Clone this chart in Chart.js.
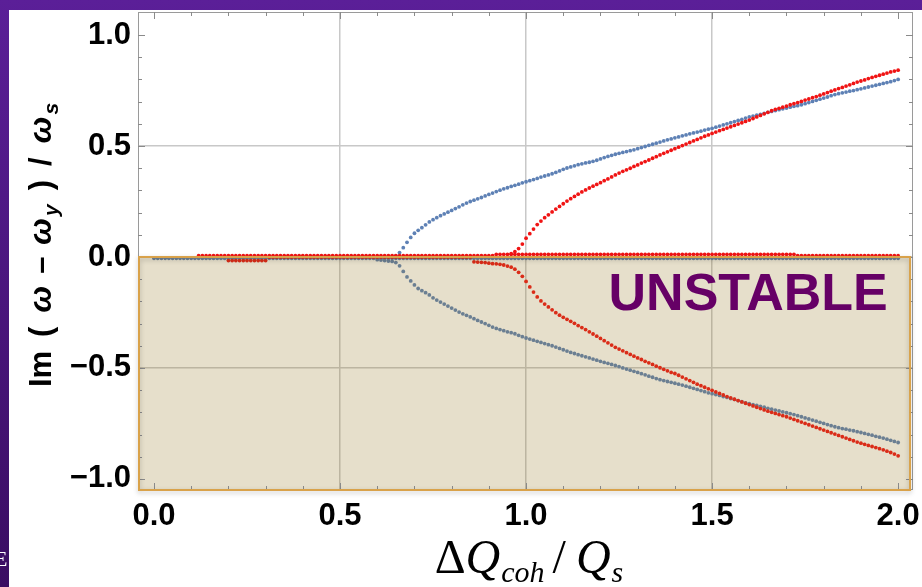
<!DOCTYPE html>
<html>
<head>
<meta charset="utf-8">
<script src="https://cdn.jsdelivr.net/npm/chart.js@4.4.1/dist/chart.umd.min.js"></script>
<style>
  html, body { margin: 0; padding: 0; background: #5b1f98; }
  canvas { display: block; }
</style>
</head>
<body>
<canvas id="graficoEstabilidad" width="922" height="587"></canvas>
<script>
// malla en dQ_coh/Q_s (paso 0.01)
const paso = 0.01;

// ramas azules
const azulPlanaInicio = 0.00;
const azulPlana = [
  -0.006,-0.006,-0.006,-0.006,-0.006,-0.006,-0.006,-0.006,-0.006,-0.006,-0.006,-0.006,-0.006,-0.006,-0.006,-0.006,-0.006,-0.006,-0.006,-0.006,
  -0.006,-0.006,-0.006,-0.006,-0.006,-0.006,-0.006,-0.006,-0.006,-0.006,-0.006,-0.006,-0.006,-0.006,-0.006,-0.006,-0.006,-0.006,-0.006,-0.006,
  -0.006,-0.006,-0.006,-0.006,-0.006,-0.006,-0.006,-0.006,-0.006,-0.006,-0.006,-0.006,-0.006,-0.006,-0.006,-0.006,-0.006,-0.006,-0.006,-0.006,
  -0.006,-0.006,-0.006,-0.006,-0.006,-0.006,-0.006,-0.006,-0.006,-0.006,-0.006,-0.006,-0.006,-0.006,-0.006,-0.006,-0.006,-0.006,-0.006,-0.006,
  -0.006,-0.006,-0.006,-0.006,-0.006,-0.006,-0.006,-0.006,-0.006,-0.006,-0.006,-0.006,-0.006,-0.006,-0.006,-0.006,-0.006,-0.006,-0.006,-0.006,
  -0.006,-0.006,-0.006,-0.006,-0.006,-0.006,-0.006,-0.006,-0.006,-0.006,-0.006,-0.006,-0.006,-0.006,-0.006,-0.006,-0.006,-0.006,-0.006,-0.006,
  -0.006,-0.006,-0.006,-0.006,-0.006,-0.006,-0.006,-0.006,-0.006,-0.006,-0.006,-0.006,-0.006,-0.006,-0.006,-0.006,-0.006,-0.006,-0.006,-0.006,
  -0.006,-0.006,-0.006,-0.006,-0.006,-0.006,-0.006,-0.006,-0.006,-0.006,-0.006,-0.006,-0.006,-0.006,-0.006,-0.006,-0.006,-0.006,-0.006,-0.006,
  -0.006,-0.006,-0.006,-0.006,-0.006,-0.006,-0.006,-0.006,-0.006,-0.006,-0.006,-0.006,-0.006,-0.006,-0.006,-0.006,-0.006,-0.006,-0.006,-0.006,
  -0.006,-0.006,-0.006,-0.006,-0.006,-0.006,-0.006,-0.006,-0.006,-0.006,-0.006,-0.006,-0.006,-0.006,-0.006,-0.006,-0.006,-0.006,-0.006,-0.006,
  -0.006
];
const azulSupInicio = 0.65;
const azulSup = [
  0.005,0.02,0.042,0.066,0.088,0.107,0.12,0.132,0.145,0.158,
  0.168,0.177,0.186,0.194,0.202,0.21,0.218,0.226,0.235,0.243,
  0.25,0.256,0.262,0.268,0.275,0.282,0.288,0.295,0.301,0.307,
  0.312,0.318,0.323,0.328,0.334,0.339,0.344,0.349,0.354,0.36,
  0.365,0.37,0.375,0.381,0.388,0.395,0.401,0.406,0.411,0.416,
  0.42,0.424,0.427,0.431,0.436,0.442,0.448,0.453,0.458,0.463,
  0.467,0.471,0.475,0.479,0.483,0.488,0.493,0.498,0.503,0.508,
  0.513,0.518,0.523,0.528,0.532,0.537,0.541,0.546,0.55,0.555,
  0.559,0.563,0.567,0.572,0.576,0.58,0.585,0.59,0.595,0.6,
  0.605,0.61,0.615,0.62,0.626,0.631,0.635,0.639,0.643,0.647,
  0.652,0.656,0.66,0.664,0.668,0.671,0.675,0.679,0.682,0.686,
  0.691,0.696,0.701,0.706,0.711,0.716,0.721,0.727,0.732,0.736,
  0.74,0.743,0.747,0.75,0.754,0.758,0.762,0.766,0.77,0.774,
  0.778,0.782,0.786,0.79,0.795,0.80
];
const azulInfInicio = 0.60;
const azulInf = [
  -0.012,-0.014,-0.016,-0.018,-0.02,
  -0.025,-0.04,-0.065,-0.09,-0.108,-0.126,-0.142,-0.152,-0.161,-0.171,
  -0.184,-0.194,-0.203,-0.212,-0.221,-0.23,-0.239,-0.248,-0.256,-0.263,
  -0.27,-0.278,-0.286,-0.293,-0.3,-0.308,-0.316,-0.322,-0.327,-0.332,
  -0.337,-0.341,-0.346,-0.353,-0.359,-0.365,-0.37,-0.375,-0.38,-0.385,
  -0.39,-0.395,-0.4,-0.406,-0.412,-0.418,-0.424,-0.43,-0.435,-0.44,
  -0.445,-0.45,-0.455,-0.46,-0.465,-0.47,-0.475,-0.479,-0.484,-0.489,
  -0.494,-0.5,-0.505,-0.51,-0.515,-0.52,-0.526,-0.531,-0.537,-0.542,
  -0.548,-0.553,-0.557,-0.561,-0.565,-0.569,-0.573,-0.577,-0.582,-0.587,
  -0.592,-0.597,-0.602,-0.607,-0.612,-0.616,-0.62,-0.624,-0.629,-0.633,
  -0.638,-0.642,-0.647,-0.652,-0.657,-0.661,-0.665,-0.669,-0.673,-0.677,
  -0.682,-0.686,-0.69,-0.694,-0.698,-0.702,-0.706,-0.71,-0.715,-0.72,
  -0.725,-0.73,-0.735,-0.74,-0.745,-0.75,-0.755,-0.76,-0.765,-0.769,
  -0.773,-0.776,-0.78,-0.783,-0.787,-0.791,-0.795,-0.799,-0.803,-0.808,
  -0.812,-0.816,-0.821,-0.826,-0.831,-0.836
];

// ramas rojas
const rojaPlanaInicio = 0.12;
const rojaPlana = [
  0.006,0.006,0.006,0.006,0.006,0.006,0.006,0.006,0.006,0.006,0.006,0.006,0.006,0.006,0.006,0.006,0.006,0.006,0.006,0.006,
  0.006,0.006,0.006,0.006,0.006,0.006,0.006,0.006,0.006,0.006,0.006,0.006,0.006,0.006,0.006,0.006,0.006,0.006,0.006,0.006,
  0.006,0.006,0.006,0.006,0.006,0.006,0.006,0.006,0.006,0.006,0.006,0.006,0.006,0.006,0.006,0.006,0.006,0.006,0.006,0.006,
  0.006,0.006,0.006,0.006,0.006,0.006,0.006,0.006,0.006,0.006,0.006,0.006,0.006,0.006,0.006,0.006,0.006,0.006,0.006,0.006,
  0.012,0.012,0.012,0.012,0.012,0.012,0.012,0.012,0.012,0.012,0.012,0.012,0.012,0.012,0.012,0.012,0.012,0.012,0.012,0.012,
  0.012,0.012,0.012,0.012,0.012,0.012,0.012,0.012,0.012,0.012,0.012,0.012,0.012,0.012,0.012,0.012,0.012,0.012,0.012,0.012,
  0.012,0.012,0.012,0.012,0.012,0.012,0.012,0.012,0.012,0.012,0.012,0.012,0.012,0.012,0.012,0.012,0.012,0.012,0.012,0.012,
  0.012,0.012,0.012,0.012,0.012,0.012,0.012,0.012,0.012,0.012,0.012,0.012,0.012,0.012,0.012,0.012,0.012,0.012,0.012,0.012,
  0.012,0.006,0.006,0.006,0.006,0.006,0.006,0.006,0.006,0.006,0.006,0.006,0.006,0.006,0.006,0.006,0.006,0.006,0.006,0.006,
  0.006,0.006,0.006,0.006,0.006,0.006,0.006,0.006,0.006
];
const rojaSupInicio = 0.96;
const rojaSup = [
  0.015,0.024,0.038,0.058,
  0.085,0.105,0.126,0.146,0.162,0.177,0.19,0.203,0.216,0.228,
  0.24,0.252,0.263,0.273,0.283,0.293,0.302,0.311,0.319,0.327,
  0.335,0.344,0.352,0.361,0.37,0.378,0.386,0.393,0.4,0.408,
  0.415,0.423,0.43,0.437,0.445,0.452,0.46,0.467,0.474,0.481,
  0.488,0.495,0.502,0.509,0.516,0.523,0.53,0.537,0.544,0.55,
  0.557,0.563,0.569,0.575,0.581,0.587,0.593,0.599,0.605,0.611,
  0.617,0.624,0.631,0.638,0.645,0.652,0.659,0.665,0.67,0.675,
  0.68,0.686,0.691,0.696,0.701,0.707,0.712,0.718,0.723,0.729,
  0.735,0.741,0.747,0.753,0.759,0.764,0.77,0.776,0.782,0.788,
  0.793,0.798,0.804,0.809,0.814,0.819,0.824,0.829,0.834,0.838,
  0.842
];
const rojaInfInicio = 0.20;
const rojaInf = [
  -0.016,-0.016,-0.016,-0.016,-0.016,-0.016,-0.016,-0.016,-0.016,-0.016,-0.016,
  0,0,0,0,0,0,0,0,0,0,0,
  0,0,0,0,0,0,0,0,0,0,0,
  0,0,0,0,0,0,0,0,0,0,0,
  0,0,0,0,0,0,0,0,0,0,0,
  0,0,0,0,0,0,0,0,0,0,0,
  -0.022,-0.023,-0.024,-0.025,
  -0.028,-0.03,-0.031,-0.033,-0.036,-0.041,-0.046,-0.055,-0.069,-0.087,
  -0.11,-0.135,-0.158,-0.18,-0.198,-0.212,-0.225,-0.238,-0.251,-0.262,
  -0.272,-0.281,-0.29,-0.299,-0.309,-0.318,-0.327,-0.337,-0.347,-0.357,
  -0.367,-0.377,-0.387,-0.397,-0.407,-0.415,-0.423,-0.431,-0.439,-0.447,
  -0.455,-0.462,-0.47,-0.477,-0.484,-0.492,-0.499,-0.506,-0.513,-0.52,
  -0.525,-0.533,-0.541,-0.549,-0.557,-0.565,-0.573,-0.58,-0.587,-0.594,
  -0.601,-0.608,-0.615,-0.622,-0.629,-0.635,-0.641,-0.647,-0.653,-0.659,
  -0.665,-0.671,-0.677,-0.683,-0.689,-0.695,-0.7,-0.705,-0.71,-0.715,
  -0.72,-0.726,-0.732,-0.738,-0.744,-0.75,-0.756,-0.762,-0.768,-0.774,
  -0.78,-0.786,-0.792,-0.798,-0.804,-0.81,-0.816,-0.822,-0.828,-0.834,
  -0.839,-0.844,-0.849,-0.854,-0.859,-0.864,-0.869,-0.875,-0.881,-0.888,
  -0.896
];

// ejes
const ejeX = { min: -0.043, max: 2.04 };
const ejeY = { min: -1.05, max: 1.104 };
const marcasX = [0.0, 0.5, 1.0, 1.5, 2.0];
const marcasY = [-1.0, -0.5, 0.0, 0.5, 1.0];
const rejillaX = [0.5, 1.0, 1.5];
const rejillaY = [-0.5, 0.0, 0.5];
const zonaFinX = 2.032;          // borde derecho de la zona sombreada
const textoZona = 'UNSTABLE';
const textoZonaPos = { x: 1.597, y: -0.172 };

const colorAzul = '#5e81b5';
const colorRojo = '#f01414';

function puntos(inicio, valores) {
  return valores.map((v, i) => ({ x: Math.round((inicio + i * paso) * 100) / 100, y: v }));
}

function etiqueta(valor) {
  return valor.toFixed(1).replace('-', '\u2212');
}

function enLista(lista, v) {
  return lista.some(r => Math.abs(r - v) < 1e-9);
}

function sinRelleno(s) {
  s.paddingTop = 0; s.paddingBottom = 0; s.paddingLeft = 0; s.paddingRight = 0;
}

// dibuja trozos de texto (con subíndices) centrados en el origen actual
function dibujarPiezas(ctx, piezas) {
  let total = 0;
  piezas.forEach(p => { ctx.font = p[1]; total += ctx.measureText(p[0]).width + (p[3] || 0); });
  let pos = -total / 2;
  piezas.forEach(p => {
    ctx.font = p[1];
    ctx.fillText(p[0], pos, p[2]);
    pos += ctx.measureText(p[0]).width + (p[3] || 0);
  });
}

const fondo = {
  id: 'fondo',
  beforeDraw(chart) {
    const ctx = chart.ctx;
    ctx.save();
    const g = ctx.createLinearGradient(0, 0, 0, chart.height);
    g.addColorStop(0, '#5b1f98');
    g.addColorStop(1, '#3a0d62');
    ctx.fillStyle = g;
    ctx.fillRect(0, 0, chart.width, chart.height);
    ctx.fillStyle = '#ffffff';
    ctx.fillRect(9, 10, chart.width - 9, chart.height - 10);
    ctx.font = '22px "Liberation Serif"';
    ctx.fillText('E', -6, 566);
    ctx.restore();
  }
};

const zona = {
  id: 'zona',
  afterDatasetsDraw(chart) {
    const { ctx, chartArea: a, scales: { x, y } } = chart;
    const x0 = a.left, x1 = x.getPixelForValue(zonaFinX);
    const y0 = y.getPixelForValue(0), y1 = a.bottom;
    ctx.save();
    ctx.fillStyle = 'rgba(149,120,39,0.24)';
    ctx.fillRect(x0, y0, x1 - x0, y1 - y0);

    ctx.fillStyle = '#660066';
    ctx.font = 'bold 52px "Liberation Sans"';
    ctx.textAlign = 'center';
    ctx.textBaseline = 'middle';
    ctx.fillText(textoZona, x.getPixelForValue(textoZonaPos.x), y.getPixelForValue(textoZonaPos.y));

    // marco gris
    ctx.strokeStyle = '#9a9a9a';
    ctx.lineWidth = 1;
    ctx.strokeRect(a.left + 0.5, a.top + 0.5, a.right - a.left - 1, a.bottom - a.top - 1);

    // marcas interiores
    ctx.strokeStyle = '#8a8a8a';
    ctx.beginPath();
    for (let k = 0; k <= 20; k++) {
      const px = Math.round(x.getPixelForValue(k / 10)) + 0.5;
      const l = k % 5 === 0 ? 7 : 4;
      ctx.moveTo(px, a.top); ctx.lineTo(px, a.top + l);
      ctx.moveTo(px, a.bottom); ctx.lineTo(px, a.bottom - l);
    }
    for (let k = -10; k <= 10; k++) {
      const py = Math.round(y.getPixelForValue(k / 10)) + 0.5;
      const l = k % 5 === 0 ? 7 : 4;
      ctx.moveTo(a.left, py); ctx.lineTo(a.left + l, py);
      ctx.moveTo(a.right, py); ctx.lineTo(a.right - l, py);
    }
    ctx.stroke();

    // borde naranja con sombra
    ctx.shadowColor = 'rgba(0,0,0,0.25)';
    ctx.shadowBlur = 5;
    ctx.shadowOffsetY = 2;
    ctx.strokeStyle = '#d9a24a';
    ctx.lineWidth = 2;
    ctx.strokeRect(x0 + 1, y0, x1 - x0 - 1, y1 - y0);
    ctx.restore();
  }
};

const titulos = {
  id: 'titulos',
  afterDraw(chart) {
    const ctx = chart.ctx;
    ctx.save();
    ctx.fillStyle = '#000000';
    ctx.textAlign = 'left';
    ctx.textBaseline = 'alphabetic';

    // título eje Y (girado)
    const b = 'bold 31px "Liberation Sans"';
    const bi = 'bold italic 32px "Liberation Sans"';
    const sub = 'bold italic 21px "Liberation Sans"';
    ctx.save();
    ctx.translate(51, 245);
    ctx.rotate(-Math.PI / 2);
    dibujarPiezas(ctx, [
      ['Im', b, 0, 14], ['(', b, 0, 14], ['\u03c9', bi, 0, 12], ['\u2013', b, 0, 12],
      ['\u03c9', bi, 0, 2], ['y', sub, 7, 14], [')', b, 0, 14], ['/', b, 0, 14],
      ['\u03c9', bi, 0, 2], ['s', sub, 7, 0]
    ]);
    ctx.restore();

    // título eje X
    const r = '48px "Liberation Serif"';
    const it = 'italic 48px "Liberation Serif"';
    const itSub = 'italic 30px "Liberation Serif"';
    ctx.save();
    ctx.translate(529, 573);
    dibujarPiezas(ctx, [
      ['\u0394', r, 0], ['Q', it, 0, 1], ['coh', itSub, 9, 8], ['/', r, 0, 10],
      ['Q', it, 0, 1], ['s', itSub, 9]
    ]);
    ctx.restore();
    ctx.restore();
  }
};

const fuenteTicks = { family: '"Liberation Sans"', size: 31, weight: 'bold' };

new Chart(document.getElementById('graficoEstabilidad').getContext('2d'), {
  type: 'scatter',
  data: {
    datasets: [
      { label: 'roja sup', data: puntos(rojaSupInicio, rojaSup), backgroundColor: colorRojo },
      { label: 'roja inf', data: puntos(rojaInfInicio, rojaInf), backgroundColor: colorRojo },
      { label: 'roja plana', data: puntos(rojaPlanaInicio, rojaPlana), backgroundColor: colorRojo },
      { label: 'azul sup', data: puntos(azulSupInicio, azulSup), backgroundColor: colorAzul },
      { label: 'azul inf', data: puntos(azulInfInicio, azulInf), backgroundColor: colorAzul },
      { label: 'azul plana', data: puntos(azulPlanaInicio, azulPlana), backgroundColor: colorAzul }
    ]
  },
  options: {
    responsive: false,
    animation: false,
    elements: { point: { radius: 1.9, borderWidth: 0, hoverRadius: 1.9 } },
    layout: { padding: { top: 12, right: 9, left: 0, bottom: 0 } },
    plugins: { legend: { display: false }, tooltip: { enabled: false } },
    scales: {
      x: {
        type: 'linear',
        min: ejeX.min,
        max: ejeX.max,
        afterBuildTicks: s => { s.ticks = marcasX.map(v => ({ value: v })); },
        afterFit: s => { s.height = 97; sinRelleno(s); },
        border: { display: false },
        grid: {
          drawTicks: false,
          lineWidth: 1.5,
          color: c => enLista(rejillaX, c.tick.value) ? '#c8c8c8' : 'rgba(0,0,0,0)'
        },
        ticks: {
          autoSkip: false, maxRotation: 0, padding: 8,
          color: '#000', font: fuenteTicks, callback: etiqueta
        }
      },
      y: {
        type: 'linear',
        min: ejeY.min,
        max: ejeY.max,
        afterBuildTicks: s => { s.ticks = marcasY.map(v => ({ value: v })); },
        afterFit: s => { s.width = 138; sinRelleno(s); },
        border: { display: false },
        grid: {
          drawTicks: false,
          lineWidth: 1.5,
          color: c => enLista(rejillaY, c.tick.value) ? '#c8c8c8' : 'rgba(0,0,0,0)'
        },
        ticks: {
          autoSkip: false, padding: 7,
          color: '#000', font: fuenteTicks, callback: etiqueta
        }
      }
    }
  },
  plugins: [fondo, zona, titulos]
});
</script>
</body>
</html>
